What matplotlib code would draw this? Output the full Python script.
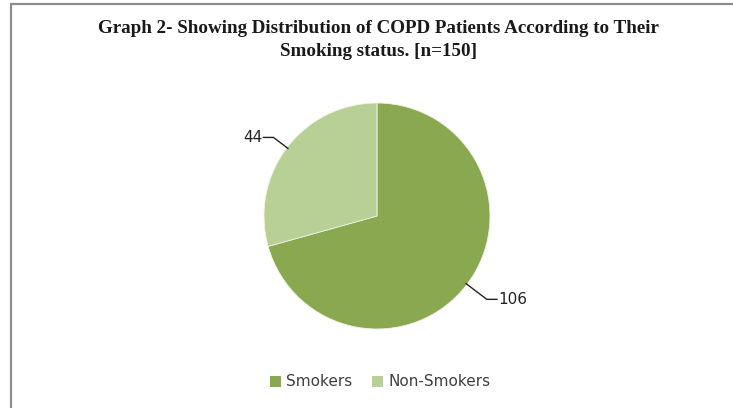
import numpy as np
import matplotlib.pyplot as plt
from matplotlib.patches import Rectangle

# data
labels = ['Smokers', 'Non-Smokers']
values = [106, 44]
colors = ['#8aa84f', '#b8cf95']
title = 'Graph 2- Showing Distribution of COPD Patients According to Their\nSmoking status. [n=150]'

fig = plt.figure(figsize=(7.33, 4.08), dpi=100)

# chart border (gray frame, runs off right/bottom)
fig.patches.append(Rectangle((10.5 / 733, -0.05), 1.1, 1 - 4.5 / 408 + 0.05,
                             transform=fig.transFigure, fill=False,
                             edgecolor='#8c8c8c', linewidth=1.6))

fig.text(0.516, 1 - 40 / 408, title, ha='center', va='center',
         family='Liberation Serif', fontweight='bold', fontsize=13.7,
         linespacing=1.47, color='#1a1a1a')

# pie
cx, cy, r = 377, 216, 113
ax = fig.add_axes([(cx - r) / 733, (408 - cy - r) / 408, 2 * r / 733, 2 * r / 408])
wedges, _ = ax.pie(values, colors=colors, startangle=90, counterclock=False,
                   radius=1.0, wedgeprops=dict(linewidth=0.6, edgecolor='#eef3e4'))
ax.set_xlim(-1, 1)
ax.set_ylim(-1, 1)
ax.set_aspect('equal')
ax.axis('off')

# value labels with elbow leader lines
elbow_r = [1.22, 1.15]
for w, v, er in zip(wedges, values, elbow_r):
    ang = np.deg2rad((w.theta1 + w.theta2) / 2)
    x0, y0 = np.cos(ang), np.sin(ang)
    x1, y1 = er * np.cos(ang), er * np.sin(ang)
    s = 1 if x0 > 0 else -1
    x2 = x1 + s * 0.09
    ax.plot([x0 * 0.99, x1, x2], [y0 * 0.99, y1, y1], color='#222222',
            linewidth=1.0, clip_on=False)
    ax.text(x2 + s * 0.01, y1, str(v), ha='left' if s > 0 else 'right',
            va='center', fontsize=11, color='#222222', family='DejaVu Sans',
            clip_on=False)

handles = [Rectangle((0, 0), 1, 1, facecolor=c, edgecolor='none') for c in colors]
leg = fig.legend(handles, labels, loc='center', bbox_to_anchor=(380 / 733, 1 - 382 / 408),
                 ncol=2, frameon=False, fontsize=11, handlelength=0.7,
                 handleheight=0.7, handletextpad=0.35, columnspacing=1.3)
for t in leg.get_texts():
    t.set_color('#404040')

fig.savefig('out.png', dpi=100)
